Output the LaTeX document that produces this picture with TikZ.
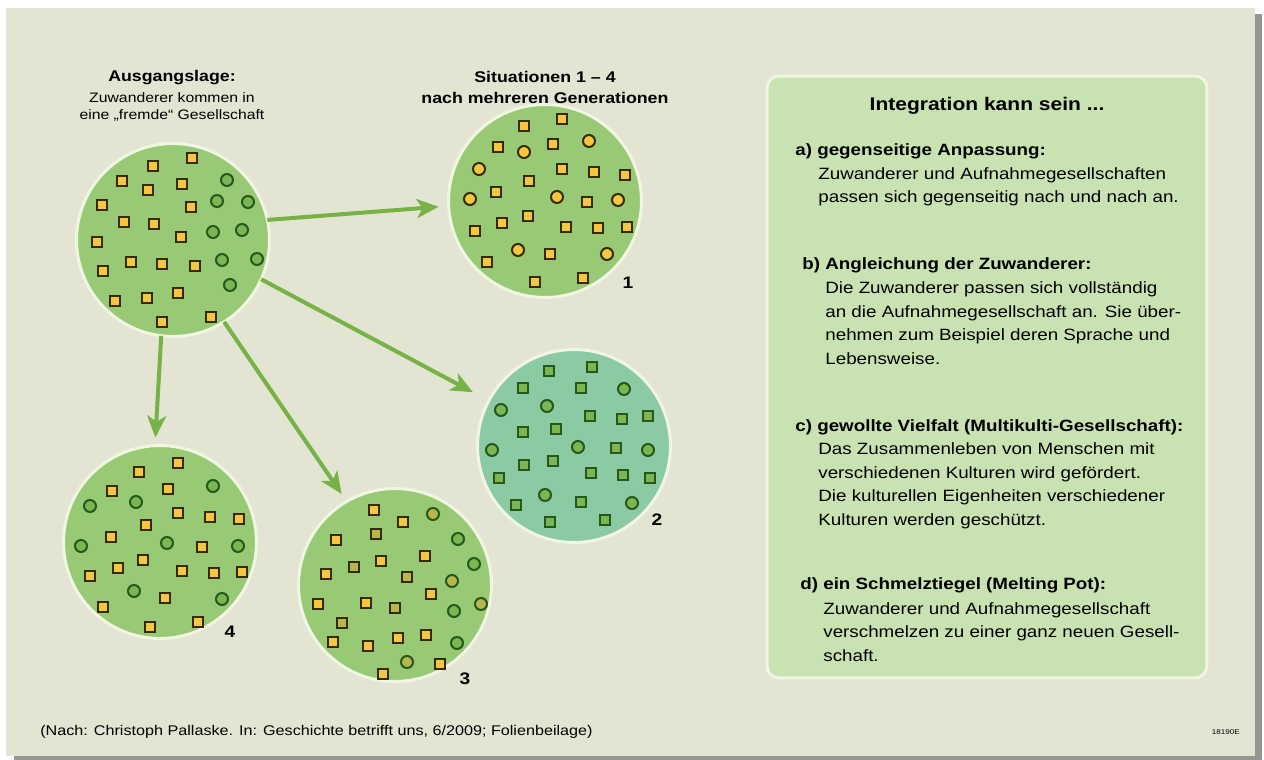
\documentclass[tikz,border=0pt]{standalone}
\usepackage{fontspec}
\setmainfont{Liberation Sans}[FakeStretch=1.15]
\usetikzlibrary{arrows.meta, positioning, shapes.misc}
\definecolor{mybeige}{RGB}{227,228,209}
\definecolor{myshadow}{RGB}{150,150,145}
\definecolor{myrim}{RGB}{240,246,226}
\definecolor{mysociety}{RGB}{152,202,118}
\definecolor{myteal}{RGB}{140,202,164}
\definecolor{myboxgreen}{RGB}{201,226,178}
\definecolor{myyellow}{RGB}{246,198,62}
\definecolor{myolive}{RGB}{186,182,76}
\definecolor{mydark}{RGB}{52,42,12}
\definecolor{mydotgreen}{RGB}{122,182,82}
\definecolor{mydarkgreen}{RGB}{38,88,28}
\definecolor{myarrow}{RGB}{118,178,70}

\begin{document}
\begin{tikzpicture}[x=0.02cm, y=-0.02cm,
    society/.style={circle,draw=myrim,line width=0.06cm,fill=mysociety,minimum size=3.86cm,inner sep=0pt,outer sep=0pt},
    newcomer/.style={rectangle,draw=mydark,line width=0.04cm,fill=myyellow,minimum size=0.2cm,inner sep=0pt},
    native/.style={circle,draw=mydarkgreen,line width=0.04cm,fill=mydotgreen,minimum size=0.24cm,inner sep=0pt},
    arrow/.style={-{Stealth[length=0.44cm,width=0.38cm,inset=0.12cm]},line width=0.08cm,myarrow},
    heading/.style={font=\fontsize{8.8}{12.5}\selectfont\bfseries,inner sep=0pt,anchor=base,align=center},
    subline/.style={font=\fontsize{7.8}{9.7}\selectfont,inner sep=0pt,anchor=base,align=center},
    number/.style={font=\fontsize{9.5}{11}\selectfont\bfseries,inner sep=0pt,anchor=base},
    boxhead/.style={font=\fontsize{9.3}{13.3}\selectfont\bfseries,inner sep=0pt,anchor=base west},
    boxtext/.style={font=\fontsize{9.3}{13.3}\selectfont,inner sep=0pt,anchor=base west,align=left}
]
    \useasboundingbox (0,0) rectangle (1264,760);
    % Sheet with shadow on the right
    \fill[white] (0,0) rectangle (1264,760);
    \fill[myshadow] (14,14) rectangle (1262,760);
    \fill[mybeige] (6,8) rectangle (1255,756);

    % Column headings (base = last line)
    \node[heading] (start) at (172,82) {Ausgangslage:};
    \node[subline] (startsub) at (172,120) {Zuwanderer kommen in\\eine „fremde“ Gesellschaft};
    \node[heading] (later) at (545,104) {Situationen 1 – 4\\nach mehreren Generationen};

    % Societies
    \node[society] (c0) at (173,240) {};
    \node[society] (c1) at (545,201) {};
    \node[society,fill=myteal] (c2) at (574,446) {};
    \node[society] (c3) at (395,585) {};
    \node[society] (c4) at (160,542) {};

    % Start: newcomers (squares) and natives (circles)
    \foreach \x/\y [count=\i] in {192/158,153/166,122/181,182/184,148/190,102/205,191/207,124/222,154/224,97/242,181/237,103/271,131/262,162/264,195/266,115/301,147/298,178/293,162/322,211/317}
        \node[newcomer] (s0-\i) at (\x,\y) {};
    \foreach \x/\y [count=\i] in {227/180,217/201,248/202,213/232,242/230,222/260,257/259,230/285}
        \node[native] (d0-\i) at (\x,\y) {};

    % 1: everyone yellow
    \foreach \x/\y [count=\i] in {562/119,524/126,498/147,553/144,562/169,594/172,625/175,529/181,496/192,587/202,475/231,502/223,528/216,566/227,598/228,627/227,550/254,487/262,535/282,583/278}
        \node[newcomer] (s1-\i) at (\x,\y) {};
    \foreach \x/\y [count=\i] in {589/141,524/152,479/169,470/199,557/197,618/200,518/250,607/254}
        \node[native,draw=mydark,fill=myyellow] (d1-\i) at (\x,\y) {};

    % 2: everyone green
    \foreach \x/\y [count=\i] in {549/371,592/367,523/388,581/388,590/416,622/419,648/416,523/432,556/429,616/448,524/465,553/461,591/473,623/475,650/478,499/478,516/505,581/502,550/522,605/520}
        \node[newcomer,draw=mydarkgreen,fill=mydotgreen] (s2-\i) at (\x,\y) {};
    \foreach \x/\y [count=\i] in {624/389,501/410,547/406,492/450,578/447,648/450,545/495,632/503}
        \node[native] (d2-\i) at (\x,\y) {};

    % 3: mixed into something new
    \foreach \x/\y [count=\i] in {374/510,403/522,336/540,425/556,381/561,326/574,431/594,318/604,366/603,426/635,398/638,333/642,368/646,440/664,383/674}
        \node[newcomer] (s3-\i) at (\x,\y) {};
    \foreach \x/\y [count=\i] in {376/534,354/567,407/577,395/608,342/623}
        \node[newcomer,fill=myolive] (o3-\i) at (\x,\y) {};
    \foreach \x/\y [count=\i] in {433/514,452/581,481/604,407/662}
        \node[native,fill=myolive] (q3-\i) at (\x,\y) {};
    \foreach \x/\y [count=\i] in {458/539,474/564,454/611,457/643}
        \node[native] (d3-\i) at (\x,\y) {};

    % 4: both groups kept
    \foreach \x/\y [count=\i] in {178/463,139/472,112/491,168/489,178/513,210/517,239/519,146/525,111/537,202/547,143/560,118/568,90/576,182/571,214/573,242/572,165/598,103/607,150/627,198/622}
        \node[newcomer] (s4-\i) at (\x,\y) {};
    \foreach \x/\y [count=\i] in {213/486,136/502,90/506,81/546,167/543,238/546,134/591,222/599}
        \node[native] (d4-\i) at (\x,\y) {};

    % Numbers
    \node[number] (n1) at (628,288) {1};
    \node[number] (n2) at (657,525) {2};
    \node[number] (n3) at (465,684) {3};
    \node[number] (n4) at (230,637) {4};

    % Arrows from the start
    \draw[arrow,shorten >=0.2cm] (c0.12) -- (c1.183);
    \draw[arrow,shorten >=0.36cm] (c0.-24) -- (c2.152);
    \draw[arrow,shorten >=0.18cm] (c0.-58) -- (c3.120);
    \draw[arrow,shorten >=0.16cm] (c0.-97) -- (c4.93);

    % Info box (text nodes: base = last line)
    \node[rectangle,rounded corners=0.24cm,draw=myrim,line width=0.06cm,fill=myboxgreen,minimum width=8.8cm,minimum height=12.04cm] (info) at (987,377) {};
    \node[font=\fontsize{10.4}{12}\selectfont\bfseries,inner sep=0pt,anchor=base] (infohead) at (987,111) {Integration kann sein ...};

    \node[boxhead] (ahead) at (795,156) {a) gegenseitige Anpassung:};
    \node[boxtext] (atext) at (818,203) {Zuwanderer und Aufnahmegesellschaften\\passen sich gegenseitig nach und nach an.};

    \node[boxhead] (bhead) at (802,270) {b) Angleichung der Zuwanderer:};
    \node[boxtext] (btext) at (825,364) {Die Zuwanderer passen sich vollständig\\an die Aufnahmegesellschaft an. Sie über-\\nehmen zum Beispiel deren Sprache und\\Lebensweise.};

    \node[boxhead] (chead) at (795,431) {c) gewollte Vielfalt (Multikulti-Gesellschaft):};
    \node[boxtext] (ctext) at (818,525) {Das Zusammenleben von Menschen mit\\verschiedenen Kulturen wird gefördert.\\Die kulturellen Eigenheiten verschiedener\\Kulturen werden geschützt.};

    \node[boxhead] (dhead) at (800,589) {d) ein Schmelztiegel (Melting Pot):};
    \node[boxtext] (dtext) at (823,661) {Zuwanderer und Aufnahmegesellschaft\\verschmelzen zu einer ganz neuen Gesell-\\schaft.};

    % Source
    \node[font=\fontsize{8}{9}\selectfont,inner sep=0pt,anchor=base west] (source) at (40,735) {(Nach: Christoph Pallaske. In: Geschichte betrifft uns, 6/2009; Folienbeilage)};
    \node[font=\fontsize{4}{5}\selectfont,inner sep=0pt,anchor=base east] (code) at (1240,734) {18190E};
\end{tikzpicture}
\end{document}
